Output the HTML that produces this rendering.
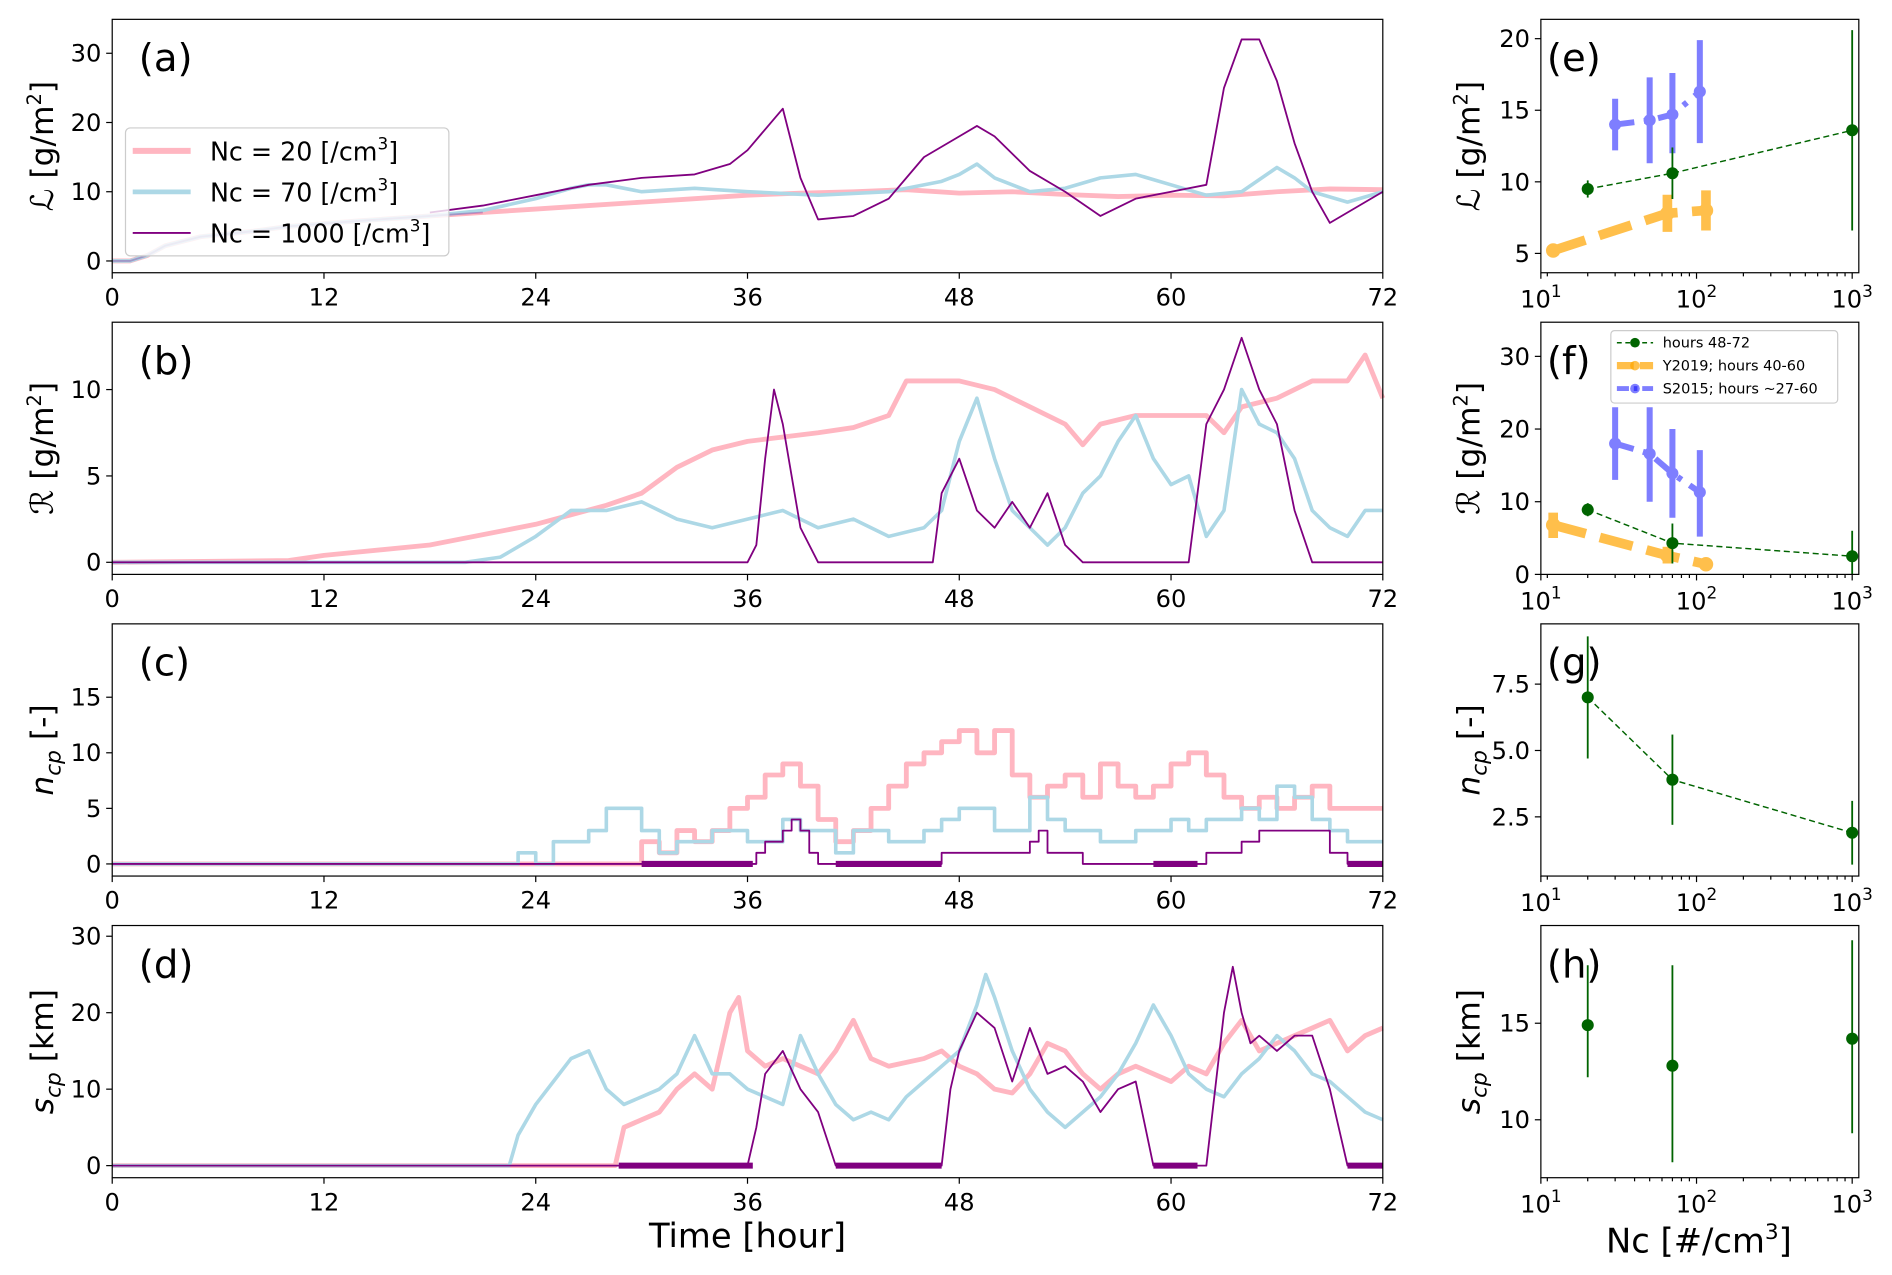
<!DOCTYPE html>
<html><head><meta charset="utf-8">
<style>
html,body{margin:0;padding:0;background:#fff;}
svg{display:block;font-family:"DejaVu Sans","Liberation Sans",sans-serif;}
</style></head>
<body>
<svg id="fig" width="1892" height="1275" viewBox="0 0 1568 1056.6" xmlns="http://www.w3.org/2000/svg"></svg>
<script>
// ---------- data (time series knots: hours / values) ----------
const aPinkT=[0,1,2,3,5,8,10,14,18,21,24,27,30,33,36,39,42,45,48,51,54,57,60,63,66,69,72];
const aPinkV=[0,0,0.8,2.2,3.5,4.3,5,5.8,6.5,7,7.5,8,8.5,9,9.5,9.8,10,10.3,9.8,10,9.6,9.3,9.5,9.4,10,10.4,10.3];
const aBlueT=[0,1,2,3,5,8,10,14,18,21,24,26,27,28,30,33,36,40,44,47,48,49,50,52,54,56,58,60,62,64,66,67,68,70,72];
const aBlueV=[0,0,0.8,2.2,3.5,4.3,5,5.8,6.5,7.3,9,10.5,11,11,10,10.5,10,9.5,10,11.5,12.5,14,12,10,10.5,12,12.5,11,9.5,10,13.5,12,10,8.5,10];
const aPurpT=[18,21,24,27,30,33,35,36,37,38,39,40,42,44,46,48,49,50,52,54,56,58,60,62,63,64,65,66,67,68,69,70,72];
const aPurpV=[7,8,9.5,11,12,12.5,14,16,19,22,12,6,6.5,9,15,18,19.5,18,13,10,6.5,9,10,11,25,32,32,26,17,10,5.5,7,10];
const bPinkT=[0,10,12,18,24,28,30,32,34,36,40,42,44,45,48,50,52,54,55,56,58,60,62,63,64,66,68,70,71,72];
const bPinkV=[0,0.1,0.4,1,2.2,3.3,4,5.5,6.5,7,7.5,7.8,8.5,10.5,10.5,10,9,8,6.8,8,8.5,8.5,8.5,7.5,9,9.5,10.5,10.5,12,9.5];
const bBlueT=[0,20,22,24,26,28,30,32,34,36,38,40,42,44,46,47,48,49,50,51,52,53,54,55,56,57,58,59,60,61,62,63,64,65,66,67,68,69,70,71,72];
const bBlueV=[0,0,0.3,1.5,3,3,3.5,2.5,2,2.5,3,2,2.5,1.5,2,3,7,9.5,6,3,2,1,2,4,5,7,8.5,6,4.5,5,1.5,3,10,8,7.5,6,3,2,1.5,3,3];
const bPurpT=[0,36,36.5,37,37.5,38,39,40,46.5,47,48,49,50,51,52,53,54,55,61,62,63,64,65,66,67,68,72];
const bPurpV=[0,0,1,6,10,8,2,0,0,4,6,3,2,3.5,2,4,1,0,0,8,10,13,10,8,3,0,0];
const cPinkT=[0,30,31,32,33,34,35,36,37,38,39,40,41,42,43,44,45,46,47,48,49,50,51,52,53,54,55,56,57,58,59,60,61,62,63,64,65,66,67,68,69,72];
const cPinkV=[0,2,1,3,2,3,5,6,8,9,7,4,2,3,5,7,9,10,11,12,10,12,8,6,7,8,6,9,7,6,7,9,10,8,6,5,6,5,6,7,5,5];
const cBlueT=[0,23,24,25,27,28,30,31,32,34,36,38,39,41,42,44,46,47,48,50,52,53,54,56,58,60,61,62,64,65,66,67,68,69,70,72];
const cBlueV=[0,1,0,2,3,5,3,1,2,3,2,4,3,1,3,2,3,4,5,3,6,4,3,2,3,4,3,4,5,4,7,6,4,3,2,2];
const cPurpT=[0,36.5,37,38,38.5,39,39.5,40,47,51.5,52,52.5,53,54,55,59,62,64,65,69,70,72];
const cPurpV=[0,1,2,3,4,3,1,0,1,1,2,3,1,1,0,0,1,2,3,1,0,0];
const dPinkT=[0,28.5,29,30,31,32,33,34,35,35.5,36,37,38,40,41,42,43,44,46,47,48,49,50,51,52,53,54,55,56,57,58,59,60,61,62,63,64,65,66,67,68,69,70,71,72];
const dPinkV=[0,0,5,6,7,10,12,10,20,22,15,13,14,12,15,19,14,13,14,15,13,12,10,9.5,12,16,15,12,10,12,13,12,11,13,12,16,19,15,16,17,18,19,15,17,18];
const dBlueT=[0,22.5,23,24,25,26,27,28,29,30,31,32,33,34,35,36,37,38,39,40,41,42,43,44,45,46,47,48,49,49.5,50,51,52,53,54,55,56,57,58,59,60,61,62,63,64,65,66,67,68,69,70,71,72];
const dBlueV=[0,0,4,8,11,14,15,10,8,9,10,12,17,12,12,10,9,8,17,12,8,6,7,6,9,11,13,15,21,25,22,15,10,7,5,7,9,12,16,21,17,12,10,9,12,14,17,15,12,11,9,7,6];
const dPurpT=[0,36,36.5,37,38,39,40,41,47,47.5,48,49,50,51,52,53,54,55,56,57,58,59,62,63,63.5,64,64.5,65,66,67,68,69,70,72];
const dPurpV=[0,0,5,12,15,10,7,0,0,10,15,20,18,11,18,12,13,11,7,10,11,0,0,20,26,20,16,17,15,17,17,10,0,0];
// right panels (Nc categories)
const ncGreen=[20,70,1000];
const ncY2019=[12,65,115];
const ncS2015=[30,50,70,105];
const eGreen=[9.5,10.6,13.6], eGreenLo=[8.9,8.8,6.6], eGreenHi=[10.1,12.4,20.6];
const eY=[5.2,7.8,8.0], eYLo=[4.9,6.5,6.6], eYHi=[5.5,9.1,9.4];
const eS=[14,14.3,14.7,16.3], eSLo=[12.2,11.3,12,12.7], eSHi=[15.8,17.3,17.6,19.9];
const fGreen=[8.9,4.3,2.5], fGreenLo=[8,1.5,0], fGreenHi=[9.8,7,6];
const fY=[6.8,2.6,1.4], fYLo=[5,1.5,0.8], fYHi=[8.5,3.8,1.9];
const fS=[18,16.6,13.9,11.3], fSLo=[13,10,7.8,5.2], fSHi=[23,23,20,17.1];
const gGreen=[7.0,3.9,1.9], gGreenLo=[4.7,2.2,0.7], gGreenHi=[9.3,5.6,3.1];
const hGreen=[14.9,12.8,14.2], hGreenLo=[12.2,7.8,9.3], hGreenHi=[18,18,19.3];

// ---------- drawing ----------
const NS="http://www.w3.org/2000/svg";
const svg=document.getElementById('fig');
function el(tag,attrs,parent){const e=document.createElementNS(NS,tag);for(const k in attrs)e.setAttribute(k,attrs[k]);(parent||svg).appendChild(e);return e;}
const PINK="#ffb6c1",BLUE="#add8e6",PURP="#800080",GREEN="#006400";

const L={x0:93,x1:1146};
const R={x0:1277,x1:1540.5};
const rows=[{top:16,bot:226},{top:267,bot:476},{top:517,bot:726},{top:767,bot:976}];
const lyl=[[-1.7,34.9],[-0.7,13.9],[-1.09,21.6],[-1.58,31.4]];
const ryl=[[3.65,21.35],[0,34.7],[0.27,9.77],[7,20.06]];
function xT(t){return L.x0+t/72*(L.x1-L.x0);}
function xN(v){return R.x0+(Math.log10(v)-1)*129;}
function yS(row,lim){return v=>rows[row].bot-(v-lim[0])/(lim[1]-lim[0])*(rows[row].bot-rows[row].top);}

function frame(x0,x1,row,name){
  const r=el('rect',{x:x0,y:rows[row].top,width:x1-x0,height:rows[row].bot-rows[row].top,fill:'none',stroke:'#000','stroke-width':1});
  
  
}
function text(x,y,s,size,anchor,name,extra){
  const t=el('text',Object.assign({x:x,y:y,'font-size':size,'text-anchor':anchor||'middle',fill:'#000'},extra||{}));
  t.innerHTML=s;
  
  
  return t;
}
function series(row,ts,vs,color,w,step,name,op){
  const y=yS(row,lyl[row]);let d='';
  for(let i=0;i<ts.length;i++){
    const X=xT(ts[i]),Y=y(vs[i]);
    if(i===0)d+='M'+X+' '+Y;
    else if(step)d+=' H'+X+' V'+Y;
    else d+=' L'+X+' '+Y;
  }
  const p=el('path',{d:d,fill:'none',stroke:color,'stroke-width':w,'stroke-linejoin':'round','opacity':op||1});
  
  
}
const letters=['a','b','c','d'];
const lyTicks=[[0,10,20,30],[0,5,10],[0,5,10,15],[0,10,20,30]];
const lyLabels=['ℒ [g/m<tspan font-size="16" dy="-10">2</tspan><tspan dy="10">]</tspan>','ℛ [g/m<tspan font-size="16" dy="-10">2</tspan><tspan dy="10">]</tspan>','<tspan font-style="italic">n</tspan><tspan font-size="18" dy="6" font-style="italic">cp</tspan><tspan dy="-6"> [-]</tspan>','<tspan font-style="italic">s</tspan><tspan font-size="18" dy="6" font-style="italic">cp</tspan><tspan dy="-6"> [km]</tspan>'];
const ryTicks=[[5,10,15,20],[0,10,20,30],[2.5,5.0,7.5],[10,15]];
const ryTickLbl=[['5','10','15','20'],['0','10','20','30'],['2.5','5.0','7.5'],['10','15']];
const xTicks=[0,12,24,36,48,60,72];

for(let r=0;r<4;r++){
  const cy=(rows[r].top+rows[r].bot)/2;
  const y=yS(r,lyl[r]);
  lyTicks[r].forEach(v=>{el('line',{x1:L.x0-5,x2:L.x0,y1:y(v),y2:y(v),stroke:'#000'});text(L.x0-9,y(v)+7,String(v),20,'end','y-tick-'+letters[r]);});
  xTicks.forEach(t=>{el('line',{x1:xT(t),x2:xT(t),y1:rows[r].bot,y2:rows[r].bot+5,stroke:'#000'});text(xT(t),rows[r].bot+27,String(t),20,'middle','x-tick-'+letters[r]);});
  text(0,0,lyLabels[r],26,'middle','y-axis-title-'+letters[r],{transform:'translate(44,'+cy+') rotate(-90)'});
  text(115,rows[r].top+43,'('+letters[r]+')',32,'start','panel-label-'+letters[r]);
  const ry=yS(r,ryl[r]);
  ryTicks[r].forEach((v,i)=>{el('line',{x1:R.x0-5,x2:R.x0,y1:ry(v),y2:ry(v),stroke:'#000'});text(R.x0-9,ry(v)+7,ryTickLbl[r][i],20,'end','y-tick-'+'efgh'[r]);});
  [1,2,3].forEach(p=>{const X=xN(Math.pow(10,p));el('line',{x1:X,x2:X,y1:rows[r].bot,y2:rows[r].bot+5,stroke:'#000'});
    text(X,rows[r].bot+29,'10<tspan font-size="14" dy="-9">'+p+'</tspan>',20,'middle','x-tick-'+'efgh'[r]);});
  for(let p=1;p<3;p++)for(let m=2;m<10;m++){const X=xN(m*Math.pow(10,p));el('line',{x1:X,x2:X,y1:rows[r].bot,y2:rows[r].bot+3,stroke:'#000'});}
  el('line',{x1:xN(11),x2:xN(11),y1:rows[r].bot,y2:rows[r].bot+3,stroke:'#000'});
  text(0,0,lyLabels[r],26,'middle','y-axis-title-'+'efgh'[r],{transform:'translate(1226,'+cy+') rotate(-90)'});
  text(1282,rows[r].top+43,'('+'efgh'[r]+')',32,'start','panel-label-'+'efgh'[r]);
}

series(0,aPinkT,aPinkV,PINK,4,false,'line-a-nc20');
series(0,aBlueT,aBlueV,BLUE,3,false,'line-a-nc70');
series(0,aPurpT,aPurpV,PURP,1.5,false,'line-a-nc1000');
series(0,aPinkT.slice(0,10),aPinkV.slice(0,10),PURP,1.5,false,'line-a-nc1000-early',0.3);
series(1,bPinkT,bPinkV,PINK,4,false,'line-b-nc20');
series(1,bBlueT,bBlueV,BLUE,3,false,'line-b-nc70');
series(1,bPurpT,bPurpV,PURP,1.5,false,'line-b-nc1000');
series(2,cPinkT,cPinkV,PINK,4,true,'line-c-nc20');
series(2,cBlueT,cBlueV,BLUE,3,true,'line-c-nc70');
series(2,cPurpT,cPurpV,PURP,1.5,true,'line-c-nc1000');
series(3,dPinkT,dPinkV,PINK,4,false,'line-d-nc20');
series(3,dBlueT,dBlueV,BLUE,3,false,'line-d-nc70');
series(3,dPurpT,dPurpV,PURP,1.5,false,'line-d-nc1000');
[[30,36.3],[41,47],[59,61.5],[70,72]].forEach(s=>{const y=yS(2,lyl[2])(0);const l=el('line',{x1:xT(s[0]),x2:xT(s[1]),y1:y,y2:y,stroke:PURP,'stroke-width':5});});
[[28.7,36.3],[41,47],[59,61.5],[70,72]].forEach(s=>{const y=yS(3,lyl[3])(0);const l=el('line',{x1:xT(s[0]),x2:xT(s[1]),y1:y,y2:y,stroke:PURP,'stroke-width':5});});

function errSeries(row,xs,ys,lo,hi,color,lw,ew,ms,dash,op,name,noLine){
  const y=yS(row,ryl[row]);
  const g=el('g',{opacity:op});
  
  
  if(!noLine){el('polyline',{points:xs.map((v,i)=>xN(v)+','+y(ys[i])).join(' '),fill:'none',stroke:color,'stroke-width':lw,'stroke-dasharray':dash},g);}
  xs.forEach((v,i)=>{el('line',{x1:xN(v),x2:xN(v),y1:y(lo[i]),y2:y(hi[i]),stroke:color,'stroke-width':ew},g);
    el('circle',{cx:xN(v),cy:y(ys[i]),r:ms,fill:color},g);});
}
errSeries(0,ncY2019,eY,eYLo,eYHi,'#ffa500',8,8,6,'28,12',0.7,'y2019-series-e');
errSeries(0,ncS2015,eS,eSLo,eSHi,'#0000ff',5,5,5,'16,8,4,8',0.5,'s2015-series-e');
errSeries(0,ncGreen,eGreen,eGreenLo,eGreenHi,GREEN,1.2,1.5,5,'5,3',1,'green-series-e');
errSeries(1,ncY2019,fY,fYLo,fYHi,'#ffa500',8,8,6,'28,12',0.7,'y2019-series-f');
errSeries(1,ncS2015,fS,fSLo,fSHi,'#0000ff',5,5,5,'16,8,4,8',0.5,'s2015-series-f');
errSeries(1,ncGreen,fGreen,fGreenLo,fGreenHi,GREEN,1.2,1.5,5,'5,3',1,'green-series-f');
errSeries(2,ncGreen,gGreen,gGreenLo,gGreenHi,GREEN,1.2,1.5,5,'5,3',1,'green-series-g');
errSeries(3,ncGreen,hGreen,hGreenLo,hGreenHi,GREEN,1.2,1.5,5,'',1,'green-series-h',true);

for(let r=0;r<4;r++){frame(L.x0,L.x1,r,'plot-frame-'+letters[r]);frame(R.x0,R.x1,r,'plot-frame-'+'efgh'[r]);}

const lg=el('g',{});


el('rect',{x:104,y:106,width:268,height:106,rx:4,fill:'#fff','fill-opacity':0.8,stroke:'#ccc'},lg);
const legA=[['Nc = 20 [/cm','#ffb6c1',5],['Nc = 70 [/cm','#add8e6',4],['Nc = 1000 [/cm','#800080',1.5]];
legA.forEach((e,i)=>{const yy=125+i*34;el('line',{x1:110,x2:158,y1:yy,y2:yy,stroke:e[1],'stroke-width':e[2]},lg);
  const t=text(174,yy+8,e[0]+'<tspan font-size="14" dy="-9">3</tspan><tspan dy="9">]</tspan>',21,'start','legend-entry-'+i);lg.appendChild(t);});
const lf=el('g',{});


el('rect',{x:1335,y:274,width:188,height:60,rx:3,fill:'#fff','fill-opacity':0.9,stroke:'#ccc'},lf);
const legF=[['hours 48-72',GREEN,1.2,'4,3',1],['Y2019; hours 40-60','#ffa500',6,'14,5',0.7],['S2015; hours ~27-60','#0000ff',4,'10,4,3,4',0.5]];
legF.forEach((e,i)=>{const yy=284+i*19;el('line',{x1:1340,x2:1370,y1:yy,y2:yy,stroke:e[1],'stroke-width':e[2],'stroke-dasharray':e[3],opacity:e[4]},lf);
  el('circle',{cx:1355,cy:yy,r:4,fill:e[1],opacity:e[4]},lf);
  const t=text(1378,yy+4,e[0],12,'start','legend-f-entry-'+i);lf.appendChild(t);});

text(619.5,1034,'Time [hour]',28,'middle','x-axis-title-time');
text(1408,1038,'Nc [#/cm<tspan font-size="18" dy="-11">3</tspan><tspan dy="11">]</tspan>',28,'middle','x-axis-title-nc');
</script>
</body></html>
